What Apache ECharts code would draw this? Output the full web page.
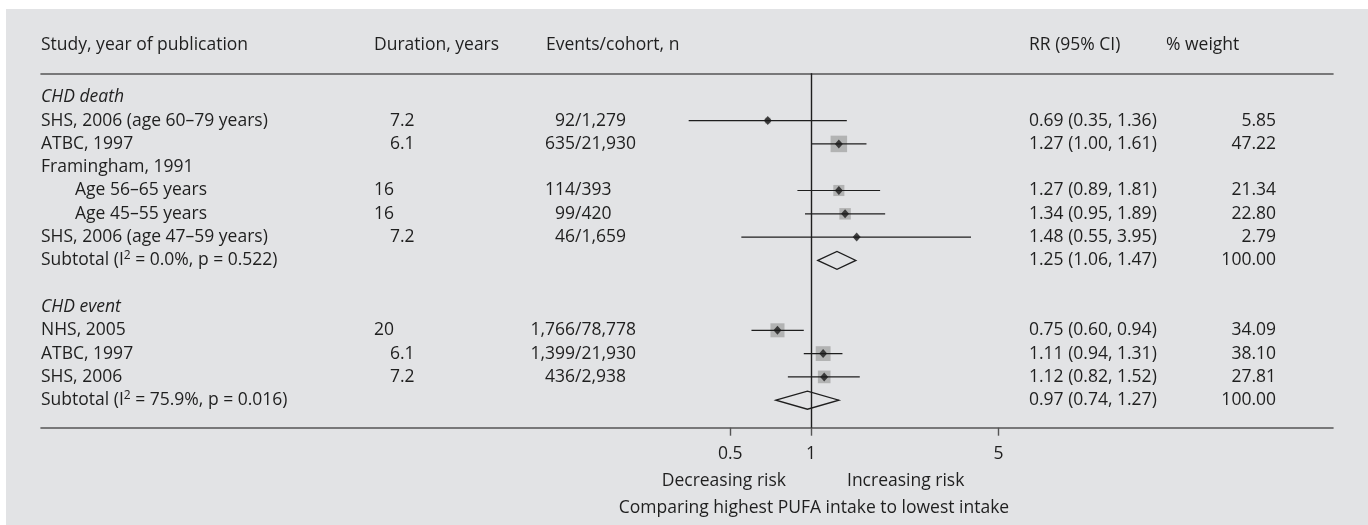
<!DOCTYPE html>
<html>
<head>
<meta charset="utf-8">
<title>PUFA intake and CHD risk</title>
<script src="https://cdn.jsdelivr.net/npm/echarts@6/dist/echarts.min.js"></script>
<style>
  html, body { margin: 0; padding: 0; background: #ffffff; }
  #chart { width: 1368px; height: 525px; }
</style>
</head>
<body>
<div id="chart"></div>
<script>
// ---- Table rows (one entry per row, top to bottom) ----
const rowLabels = [
  'CHD death',
  'SHS, 2006 (age 60–79 years)',
  'ATBC, 1997',
  'Framingham, 1991',
  'Age 56–65 years',
  'Age 45–55 years',
  'SHS, 2006 (age 47–59 years)',
  'Subtotal (I{sup|2} = 0.0%, p = 0.522)',
  '',
  'CHD event',
  'NHS, 2005',
  'ATBC, 1997',
  'SHS, 2006',
  'Subtotal (I{sup|2} = 75.9%, p = 0.016)'
];
const rowTypes = ['group', 'study', 'study', 'label', 'substudy', 'substudy', 'study', 'pooled',
                  'blank', 'group', 'study', 'study', 'study', 'pooled'];
const durations = ['', '7.2', '6.1', '', '16', '16', '7.2', '', '', '', '20', '6.1', '7.2', ''];
const events = ['', '92/1,279', '635/21,930', '', '114/393', '99/420', '46/1,659', '', '', '',
                '1,766/78,778', '1,399/21,930', '436/2,938', ''];
const rr      = [null, 0.69, 1.27, null, 1.27, 1.34, 1.48, 1.25, null, null, 0.75, 1.11, 1.12, 0.97];
const ciLow   = [null, 0.35, 1.00, null, 0.89, 0.95, 0.55, 1.06, null, null, 0.60, 0.94, 0.82, 0.74];
const ciHigh  = [null, 1.36, 1.61, null, 1.81, 1.89, 3.95, 1.47, null, null, 0.94, 1.31, 1.52, 1.27];
const weights = [null, 5.85, 47.22, null, 21.34, 22.80, 2.79, 100.00, null, null, 34.09, 38.10, 27.81, 100.00];

// ---- Column headers and axis text ----
const headers = ['Study, year of publication', 'Duration, years', 'Events/cohort, n', 'RR (95% CI)', '% weight'];
const tickValues = [0.5, 1, 5];
const sideLabels = ['Decreasing risk', 'Increasing risk'];
const axisTitle = 'Comparing highest PUFA intake to lowest intake';

// ---- Styling ----
const FONT = '"Open Sans", "Noto Sans", sans-serif';
const FS = 17.5;
const TEXT = '#1f1f1f';
const PANEL = '#e2e3e5';
const RULE = '#555555';
const INK = '#1e1e1e';

// Build series data from the row arrays
const studyRows = [], pooledRows = [];
rowTypes.forEach((t, i) => {
  if (t === 'study' || t === 'substudy') studyRows.push(i);
  if (t === 'pooled') pooledRows.push(i);
});
const ciData = studyRows.map(i => [ciLow[i], ciHigh[i], i]);
const boxData = studyRows.map(i => [rr[i], i, weights[i]]);
const pointData = studyRows.map(i => [rr[i], i]);
const pooledData = pooledRows.map(i => [rr[i], ciLow[i], ciHigh[i], i]);

const chart = echarts.init(document.getElementById('chart'), null, { renderer: 'canvas' });

const logAxisRange = { min: 0.001348, max: 88.29 };

const option = {
  animation: false,
  backgroundColor: '#ffffff',
  textStyle: { fontFamily: FONT },
  grid: { left: 41, right: 35, top: 73.3, bottom: 97.3 },
  xAxis: [
    {
      type: 'log', logBase: 10, min: logAxisRange.min, max: logAxisRange.max,
      position: 'bottom',
      axisLine: { show: true, onZero: false, lineStyle: { color: RULE, width: 1.6 } },
      axisTick: { show: true, customValues: tickValues, length: 8, inside: false,
                  lineStyle: { color: RULE, width: 1.4 } },
      axisLabel: { show: true, customValues: tickValues, margin: 17, color: TEXT,
                   fontFamily: FONT, fontSize: FS, formatter: v => String(v) },
      splitLine: { show: false }
    },
    {
      type: 'log', logBase: 10, min: logAxisRange.min, max: logAxisRange.max,
      position: 'top',
      axisLine: { show: true, onZero: false, lineStyle: { color: RULE, width: 1.6 } },
      axisTick: { show: false }, axisLabel: { show: false }, splitLine: { show: false }
    }
  ],
  yAxis: {
    type: 'value', inverse: true, min: -1.03, max: 14.18,
    show: false
  },
  series: [
    {
      name: 'weight boxes', type: 'scatter', symbol: 'rect',
      data: boxData,
      symbolSize: d => 2.4 * Math.sqrt(d[2]),
      itemStyle: { color: '#a6a6a6' },
      z: 2, silent: true
    },
    {
      name: 'confidence intervals', type: 'custom',
      data: ciData,
      renderItem: (params, api) => {
        const a = api.coord([api.value(0), api.value(2)]);
        const b = api.coord([api.value(1), api.value(2)]);
        return { type: 'line', shape: { x1: a[0], y1: a[1], x2: b[0], y2: b[1] },
                 style: { stroke: INK, lineWidth: 1.2 } };
      },
      markLine: {
        silent: true, symbol: 'none', label: { show: false },
        lineStyle: { color: INK, width: 1.4, type: 'solid' },
        data: [{ xAxis: 1 }]
      },
      z: 3
    },
    {
      name: 'estimates', type: 'scatter', symbol: 'diamond', symbolSize: [8, 9],
      data: pointData,
      itemStyle: { color: '#1a1a1a' },
      z: 4, silent: true
    },
    {
      name: 'pooled', type: 'custom',
      data: pooledData,
      renderItem: (params, api) => {
        const row = api.value(3);
        const c = api.coord([api.value(0), row]);
        const l = api.coord([api.value(1), row]);
        const r = api.coord([api.value(2), row]);
        const h = 9;
        return { type: 'polygon',
                 shape: { points: [[l[0], c[1]], [c[0], c[1] - h], [r[0], c[1]], [c[0], c[1] + h]] },
                 style: { fill: 'none', stroke: INK, lineWidth: 1.3 } };
      },
      z: 4
    }
  ]
};

chart.setOption(option);

// ---- Table text, placed on the rows of the y axis ----
const rowY = i => chart.convertToPixel({ yAxisIndex: 0 }, i);
const oneX = chart.convertToPixel({ xAxisIndex: 0 }, 1);

function txt(text, x, y, align, extra) {
  return {
    type: 'text', x: x, y: y, silent: true,
    style: Object.assign({
      text: text, fill: TEXT, fontFamily: FONT, fontSize: FS,
      align: align || 'left', verticalAlign: 'middle',
      rich: { sup: { fontSize: 12, fontFamily: FONT, fill: TEXT, padding: [0, 0, 10, 0] } }
    }, extra || {})
  };
}

const graphics = [
  { type: 'rect', shape: { x: 6, y: 9, width: 1362, height: 516 }, style: { fill: PANEL }, z: -10, silent: true }
];

// Column headers
const headerY = 45;
const colX = [41, 374, 546, 1029, 1166];
headers.forEach((h, k) => graphics.push(txt(h, colX[k], headerY)));

rowLabels.forEach((label, i) => {
  const y = rowY(i);
  const t = rowTypes[i];
  if (label) {
    const x = t === 'substudy' ? 75 : 41;
    const extra = t === 'group' ? { fontStyle: 'italic' } : {};
    graphics.push(txt(label, x, y, 'left', extra));
  }
  if (durations[i]) {
    graphics.push(txt(durations[i], durations[i].indexOf('.') >= 0 ? 390 : 374, y));
  }
  if (events[i]) {
    const cut = events[i].indexOf('/');
    graphics.push(txt(events[i].slice(0, cut), 575, y, 'right'));
    graphics.push(txt(events[i].slice(cut), 575, y, 'left'));
  }
  if (rr[i] != null) {
    graphics.push(txt(rr[i].toFixed(2) + ' (' + ciLow[i].toFixed(2) + ', ' + ciHigh[i].toFixed(2) + ')', 1029, y));
    graphics.push(txt(weights[i].toFixed(2), 1276, y, 'right'));
  }
});

// Direction labels and axis title
graphics.push(txt(sideLabels[0], oneX - 25, 481, 'right'));
graphics.push(txt(sideLabels[1], oneX + 36, 481, 'left'));
graphics.push(txt(axisTitle, oneX + 3, 508, 'center'));

chart.setOption({ graphic: graphics });
</script>
</body>
</html>
